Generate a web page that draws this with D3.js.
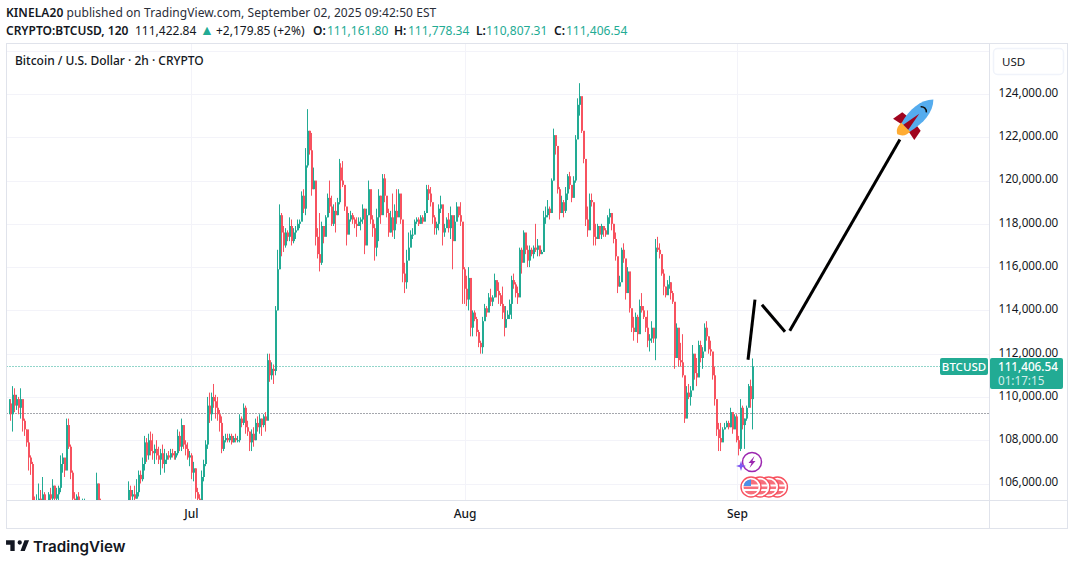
<!DOCTYPE html>
<html>
<head>
<meta charset="utf-8">
<script src="https://cdn.jsdelivr.net/npm/d3@7"></script>
<style>
body { margin: 0; background: #fff; }
svg { display: block; }
text { font-family: "Noto Sans", sans-serif; }
</style>
</head>
<body>
<svg id="chart" width="1074" height="565"></svg>
<script>
// prices in thousands of USD, one bar per ~5.4h
const highs = [
109.9,109.9,110.5,110.4,110.1,110.0,110.4,109.3,109.0,108.5,
108.5,107.3,107.0,105.4,105.5,106.0,105.7,106.3,105.6,105.1,
105.6,105.8,106.2,105.9,105.8,105.9,107.3,107.4,107.1,109.0,
109.0,107.8,106.6,105.6,105.5,105.6,105.2,105.3,105.3,105.2,
105.0,104.9,104.8,105.2,106.5,106.0,105.3,104.9,104.7,104.4,
104.2,104.0,103.8,104.1,104.3,104.5,104.7,104.7,104.9,105.1,
106.1,105.9,105.7,105.9,106.2,106.6,106.6,107.2,108.2,108.1,
108.3,108.4,108.3,107.8,108.0,107.7,107.6,107.8,107.6,107.4,
107.5,107.6,107.6,107.5,107.5,108.5,108.4,109.0,108.7,108.0,
107.9,107.5,107.4,107.0,106.7,105.8,105.5,106.6,107.1,108.0,
110.0,110.2,110.2,110.6,110.1,110.0,109.4,109.1,108.2,108.3,
108.3,108.3,108.3,108.2,108.3,108.2,109.2,109.1,109.7,109.6,
108.9,108.4,108.5,108.6,109.0,109.1,109.2,109.0,109.2,109.3,
112.0,112.0,111.6,111.5,114.2,116.8,118.9,118.5,117.9,117.8,
117.7,118.3,118.2,117.8,117.9,118.2,118.2,119.5,119.6,121.5,
123.3,122.3,122.2,120.6,119.9,117.8,118.5,118.1,117.8,118.4,
119.4,120.0,119.3,118.9,119.0,119.2,121.0,120.8,120.9,119.7,
118.2,118.5,118.6,118.5,118.3,118.3,118.3,118.3,118.9,118.7,
118.7,120.0,118.9,118.4,118.0,118.7,119.6,119.3,120.3,120.3,
118.8,118.7,118.6,119.4,118.9,119.6,119.6,119.1,117.6,116.2,
116.8,117.6,117.7,117.8,118.2,118.3,118.3,118.4,118.4,118.6,
119.8,119.8,119.7,118.8,118.4,118.1,118.9,119.3,118.7,118.0,
118.3,118.5,118.8,118.3,118.4,119.0,118.7,119.0,118.0,116.0,
115.6,116.0,114.5,114.0,114.0,113.7,113.1,112.6,113.7,114.3,
114.2,114.8,115.0,114.7,115.7,115.3,115.3,114.8,115.1,114.2,
114.2,114.0,114.5,115.6,115.7,115.3,115.1,116.9,116.9,117.7,
117.0,117.0,117.0,116.9,117.0,118.0,117.3,116.9,116.8,118.6,
118.8,119.1,118.8,120.1,122.4,121.9,120.8,119.7,119.3,119.1,
119.7,120.3,120.4,119.7,120.2,122.1,123.8,124.5,123.5,122.2,
119.4,118.8,119.4,119.4,118.8,118.0,118.0,117.8,118.0,117.9,
117.8,118.4,118.7,118.5,118.0,117.6,115.9,115.6,116.9,117.1,
115.6,116.0,115.4,114.0,113.7,113.9,113.8,114.5,114.8,114.2,
113.6,114.0,112.9,113.5,113.1,117.3,117.4,117.1,116.5,115.9,
115.1,115.4,115.6,115.0,114.9,113.5,113.4,112.5,112.5,112.9,
110.6,110.5,110.6,110.5,112.4,111.7,111.8,112.6,112.6,112.3,
113.4,113.5,112.8,112.6,111.9,111.4,109.6,108.8,108.8,108.6,
108.8,108.9,108.9,109.5,109.2,109.2,109.2,108.2,109.9,109.6,
109.0,109.6,110.6,110.8,111.78]
const lows = [
109.2,108.9,108.4,109.3,109.4,109.2,109.0,108.4,108.2,107.7,
106.6,106.4,104.9,104.3,104.5,104.8,104.9,104.9,104.6,104.4,
104.6,105.0,105.2,105.1,105.0,105.1,105.6,106.5,106.3,106.8,
107.6,106.2,105.0,104.8,104.7,104.9,104.6,104.7,104.6,104.5,
104.4,104.2,104.2,104.5,104.9,105.0,104.6,104.2,103.9,103.6,
103.5,103.1,103.1,103.3,103.6,103.8,104.1,104.0,104.3,104.4,
104.9,105.1,105.1,105.1,105.3,105.4,106.0,106.1,106.6,107.0,
107.1,107.3,107.1,106.9,107.1,106.9,106.4,106.7,106.5,106.9,
107.1,107.1,107.2,107.1,107.1,107.3,107.5,107.5,107.6,107.3,
107.1,106.8,106.2,106.1,105.3,105.1,104.9,105.0,106.1,106.8,
107.6,108.8,108.9,109.5,109.0,108.9,108.4,107.4,107.5,107.9,
107.9,107.9,107.8,107.9,107.9,107.9,107.9,108.6,108.7,108.3,
108.2,107.5,107.5,107.7,108.0,108.4,108.3,108.2,108.6,108.4,
109.0,110.7,110.8,110.6,111.0,114.0,115.9,116.5,116.7,116.9,
117.2,117.2,117.0,117.1,117.3,117.7,117.8,118.5,118.5,118.4,
120.6,121.2,119.3,119.6,117.0,116.4,115.8,116.1,117.1,117.7,
118.3,118.5,117.9,117.9,117.6,118.4,118.9,119.6,119.7,118.6,
117.0,117.6,118.1,118.0,117.8,117.4,117.9,117.7,118.0,116.6,
117.4,118.4,118.0,117.4,116.3,116.5,117.2,118.0,119.4,119.0,
118.3,117.4,117.6,117.4,117.3,118.0,119.0,118.0,115.3,114.8,
115.0,116.7,117.1,117.3,117.7,118.0,117.9,118.0,118.0,118.2,
118.7,119.1,118.8,118.0,117.5,117.5,117.7,118.5,117.0,117.4,
117.9,117.6,117.3,115.9,117.4,118.5,118.3,117.9,114.3,114.3,
114.2,114.0,112.8,112.8,113.5,112.8,112.3,112.0,112.0,113.6,
113.7,114.0,114.2,114.2,114.6,114.6,114.3,114.2,113.6,112.8,
113.4,113.6,113.6,113.6,115.0,114.6,114.3,115.1,115.7,116.7,
116.6,116.0,116.0,116.5,116.4,116.7,116.5,116.5,116.6,117.1,
118.0,118.3,118.2,118.7,120.0,121.2,119.4,118.2,118.5,118.3,
118.5,119.1,119.6,119.0,119.4,119.9,122.0,123.0,122.2,120.8,
117.9,117.4,118.7,118.8,117.0,117.0,117.4,117.3,117.3,117.4,
117.4,117.9,118.0,117.7,117.1,116.3,114.8,115.1,115.4,116.2,
114.5,115.1,113.9,113.0,112.6,113.1,112.5,113.0,113.9,113.6,
113.0,112.3,112.1,112.5,112.5,111.7,116.7,116.4,115.6,114.7,
114.6,115.0,115.0,114.5,114.3,111.3,112.3,111.4,111.4,110.9,
108.8,109.4,109.9,109.6,110.6,110.8,110.5,111.6,111.6,111.3,
112.5,112.6,112.0,111.9,110.8,109.6,108.2,107.5,107.5,108.2,
108.5,108.6,108.5,108.6,108.3,108.9,107.9,107.3,107.5,108.5,
107.6,108.9,109.6,109.5,108.5]
const closes = [
109.7,109.2,110.1,109.6,109.9,109.5,109.9,108.9,108.5,107.9,
107.2,106.9,105.1,104.6,105.0,105.3,105.1,105.5,104.9,104.7,
105.5,105.3,105.9,105.3,105.5,105.8,106.9,107.2,106.6,108.7,
107.7,106.5,105.3,105.0,105.4,105.1,104.9,105.0,105.1,104.8,
104.6,104.4,104.6,105.0,106.0,105.2,104.8,104.4,104.1,103.9,
103.7,103.4,103.6,103.9,104.1,104.4,104.3,104.5,104.7,104.9,
105.7,105.4,105.5,105.3,105.6,106.4,106.2,106.9,107.9,107.3,
108.0,107.5,107.4,107.6,107.3,107.1,107.4,106.9,107.1,107.3,
107.2,107.4,107.3,107.2,107.4,108.2,107.7,108.7,107.8,107.6,
107.2,107.3,106.5,106.7,105.6,105.3,105.1,106.3,106.9,107.8,
109.6,109.2,110.0,109.8,109.5,109.2,108.8,107.6,108.0,108.1,
108.0,108.2,107.9,108.1,108.0,108.0,109.0,108.8,109.5,108.6,
108.4,107.9,108.3,108.0,108.8,108.6,109.0,108.7,109.1,108.9,
111.7,111.0,111.3,111.2,114.0,115.9,118.4,117.6,117.0,117.6,
117.4,117.9,117.2,117.6,117.7,118.0,118.1,119.3,118.7,120.7,
122.3,121.4,119.6,120.0,117.4,116.6,116.2,117.9,117.4,118.3,
119.2,118.8,118.0,118.6,118.4,119.0,120.6,120.0,119.8,118.8,
117.5,118.2,118.4,118.2,118.0,117.9,118.1,118.2,118.7,117.0,
118.4,119.6,118.2,117.8,116.9,118.3,119.3,118.4,120.1,119.3,
118.5,117.6,118.3,117.7,118.6,118.3,119.4,118.2,115.7,115.3,
116.3,116.9,117.5,117.5,118.1,118.2,118.0,118.3,118.1,118.5,
119.6,119.4,119.0,118.3,117.8,118.0,118.7,118.9,117.6,117.8,
118.2,117.8,118.4,117.2,118.1,118.8,118.4,118.1,115.9,115.0,
114.5,115.5,113.2,113.9,113.6,113.0,112.5,112.3,113.5,114.1,
113.9,114.6,114.4,114.6,115.4,114.9,114.7,114.3,113.9,113.2,
113.6,113.8,114.3,115.4,115.2,114.8,114.6,116.8,116.2,117.6,
116.8,116.3,116.8,116.6,116.9,116.8,117.0,116.6,116.7,118.3,
118.4,118.7,118.5,120.0,122.1,121.6,119.6,118.5,119.0,118.6,
119.4,120.2,119.8,119.2,120.0,121.9,123.5,123.9,122.3,121.0,
118.2,117.7,119.1,119.0,117.4,117.3,117.9,117.5,117.9,117.7,
117.5,118.3,118.5,118.0,117.3,116.5,115.1,115.3,116.8,116.4,
114.8,115.8,114.1,113.2,113.0,113.7,112.9,114.2,114.0,113.7,
113.2,112.6,112.7,113.2,112.7,116.9,116.8,116.6,115.7,115.1,
114.7,115.2,115.3,114.8,114.4,111.8,113.2,111.7,111.6,111.0,
109.0,110.2,110.0,110.3,112.0,111.1,110.9,112.4,111.8,112.1,
113.2,112.8,112.2,112.1,111.0,109.9,108.5,108.1,107.9,108.5,
108.6,108.8,108.6,109.3,108.5,109.1,108.0,107.6,109.5,108.7,
109.0,109.5,110.5,109.9,111.41]

const priceTicks = [106,108,110,112,114,116,118,120,122,124,126]
const monthLabels = ['Jul','Aug','Sep']
const monthBars = [91.8,229.4,366.4]
const lastPrice = 111.40654
const prevClose = 109.227

// the hand drawn forecast: [bar, price] pairs
const strokeA = [[372,111.72],[375.5,114.5]]
const strokeB = [[379,114.26],[390.6,113.01]]
const strokeC = [[393,113.06],[448.4,121.9]]

const green = '#22ab94', red = '#f7525f', gridColor = '#f3f3f9', borderColor = '#e0e3eb', ink = '#131722'
const paneLeft = 6.5, paneRight = 989.5, paneTop = 43.5, paneBottom = 500.5, outerRight = 1067.5, outerBottom = 528.5

const svg = d3.select('#chart')
const x = d3.scaleLinear().domain([0, closes.length - 1]).range([8.5, 752])
const y = d3.scaleLinear().domain([106, 124]).range([483.5, 94])
const money = v => d3.format(',.2f')(v * 1000)

svg.append('defs').append('clipPath').attr('id', 'pane').append('rect')
    .attr('x', paneLeft).attr('y', paneTop).attr('width', paneRight - paneLeft).attr('height', paneBottom - paneTop)

// header
const head1 = svg.append('text').attr('x', 6).attr('y', 17).attr('font-size', 12).attr('letter-spacing', 0.07).attr('fill', ink)
head1.append('tspan').attr('font-weight', 600).text('KINELA20')
head1.append('tspan').attr('fill', '#2a2e39').text(' published on TradingView.com, September 02, 2025 09:42:50 EST')
const head2 = svg.append('text').attr('y', 35).attr('font-size', 12).attr('fill', ink)
head2.append('tspan').attr('x', 6).attr('font-weight', 600).text('CRYPTO:BTCUSD, 120')
head2.append('tspan').attr('x', 135).text('111,422.84')
head2.append('tspan').attr('x', 200).attr('fill', green).attr('font-size', 14).text('▲')
head2.append('tspan').attr('x', 216).text('+2,179.85 (+2%)')
const ohlcNames = ['O:','H:','L:','C:']
const ohlcValues = ['111,161.80','111,778.34','110,807.31','111,406.54']
const ohlcNameX = [313,394,476,554]
const ohlcValueX = [327,408,486,566]
ohlcNames.forEach((n, i) => {
    head2.append('tspan').attr('x', ohlcNameX[i]).attr('font-weight', 600).text(n)
    head2.append('tspan').attr('x', ohlcValueX[i]).attr('fill', green).text(ohlcValues[i])
})

// grid
svg.append('g').selectAll('line').data(priceTicks).join('line')
    .attr('x1', paneLeft).attr('x2', paneRight)
    .attr('y1', d => Math.round(y(d)) + 0.5).attr('y2', d => Math.round(y(d)) + 0.5)
    .attr('stroke', gridColor)
svg.append('g').selectAll('line').data(monthBars).join('line')
    .attr('x1', d => Math.round(x(d)) + 0.5).attr('x2', d => Math.round(x(d)) + 0.5)
    .attr('y1', paneTop).attr('y2', paneBottom)
    .attr('stroke', gridColor)

// price lines
const lastY = Math.floor(y(lastPrice)) + 0.5
const prevY = Math.floor(y(prevClose)) + 0.5
svg.append('line').attr('x1', paneLeft).attr('x2', 940).attr('y1', lastY).attr('y2', lastY)
    .attr('stroke', green).attr('stroke-dasharray', '1 2')
svg.append('line').attr('x1', paneLeft).attr('x2', paneRight).attr('y1', prevY).attr('y2', prevY)
    .attr('stroke', '#4a4e5a').attr('stroke-dasharray', '1 2')

// candles
const pane = svg.append('g').attr('clip-path', 'url(#pane)')
const candles = pane.selectAll('g').data(closes).join('g')
    .attr('fill', (c, i) => c >= (i ? closes[i - 1] : c - 0.3) ? green : red)
candles.append('rect')
    .attr('x', (c, i) => Math.round(x(i))).attr('width', 1)
    .attr('y', (c, i) => y(highs[i]))
    .attr('height', (c, i) => Math.max(0.5, y(lows[i]) - y(highs[i])))
candles.append('rect')
    .attr('x', (c, i) => Math.round(x(i))).attr('width', 2)
    .attr('y', (c, i) => y(Math.max(c, i ? closes[i - 1] : c)))
    .attr('height', (c, i) => Math.max(1, Math.abs(y(c) - y(i ? closes[i - 1] : c))))

// forecast strokes
const pen = d3.line().x(d => x(d[0])).y(d => y(d[1]))
;[strokeA, strokeB, strokeC].forEach(s => {
    svg.append('path').attr('d', pen(s)).attr('fill', 'none').attr('stroke', '#000').attr('stroke-width', 3)
})

// rocket
const rocket = svg.append('g').attr('transform', 'translate(915,118) rotate(45)')
rocket.append('path').attr('d', 'M-5,4 L-13,5 L-15,16 L-5,14 Z').attr('fill', '#a0041e')
rocket.append('path').attr('d', 'M5,4 L13,5 L15,16 L5,14 Z').attr('fill', '#a0041e')
rocket.append('path').attr('d', 'M-6,12 L6,12 C7,18 4,22 -1,24 C-5,22 -7,18 -6,12 Z').attr('fill', '#ffac33')
rocket.append('path').attr('d', 'M0,-26 C9,-17 10,-2 6,13 L-6,13 C-10,-2 -9,-17 0,-26 Z').attr('fill', '#55acee')
rocket.append('path').attr('d', 'M0,-6 L3.5,13 L-3.5,13 Z').attr('fill', '#a0041e')
rocket.append('path').attr('d', 'M-4,-12 A5,5 0 0 1 4,-12').attr('fill', 'none').attr('stroke', '#111').attr('stroke-width', 1.5)

// event badges
const flagBars = [373.5, 378, 382.4, 386.8]
const flagY = 487
const flags = svg.append('g')
flagBars.slice().reverse().forEach((b, k) => {
    const g = flags.append('g').attr('transform', `translate(${x(b)},${flagY})`)
    g.append('circle').attr('r', 10).attr('fill', '#fff').attr('stroke', '#f7525f').attr('stroke-width', 1.4)
    g.append('circle').attr('r', 7.5).attr('fill', '#f7707c')
    g.append('rect').attr('x', -7.5).attr('y', -2.5).attr('width', 15).attr('height', 2).attr('fill', '#fff')
    g.append('rect').attr('x', -7.5).attr('y', 2).attr('width', 15).attr('height', 2).attr('fill', '#fff')
    if (k === flagBars.length - 1) {
        g.append('path').attr('d', 'M-7.5,-1 A7.5,7.5 0 0 1 0,-7.5 L0,-1 Z').attr('fill', '#4a90e8')
    }
})
const bolt = svg.append('g').attr('transform', 'translate(752,462)')
bolt.append('circle').attr('r', 9.5).attr('fill', '#fff').attr('stroke', '#9c27b0').attr('stroke-width', 1.5)
bolt.append('path').attr('d', 'M2.5,-6 L-3.5,1 L-0.5,1 L-2.5,6 L3.5,-1 L0.5,-1 Z').attr('fill', '#9c27b0')
svg.append('path').attr('transform', 'translate(741,466)')
    .attr('d', 'M0,-5 L1.2,-1.2 L5,0 L1.2,1.2 L0,5 L-1.2,1.2 L-5,0 L-1.2,-1.2 Z').attr('fill', '#7e57f2')

// frame
const frame = svg.append('g').attr('fill', 'none').attr('stroke', borderColor)
frame.append('rect').attr('x', paneLeft).attr('y', paneTop).attr('width', outerRight - paneLeft).attr('height', outerBottom - paneTop)
frame.append('line').attr('x1', paneRight).attr('x2', paneRight).attr('y1', paneTop).attr('y2', outerBottom)
frame.append('line').attr('x1', paneLeft).attr('x2', outerRight).attr('y1', paneBottom).attr('y2', paneBottom)

// legend
svg.append('text').attr('x', 15).attr('y', 65).attr('font-size', 12).attr('font-weight', 500).attr('fill', ink)
    .text('Bitcoin / U.S. Dollar · 2h · CRYPTO')

// axes
const priceAxis = d3.axisRight(y).tickValues(priceTicks.slice(0, -1)).tickFormat(money).tickSize(0).tickPadding(9)
const gy = svg.append('g').attr('transform', `translate(${paneRight},0)`).call(priceAxis)
gy.select('.domain').remove()
gy.selectAll('text').attr('font-size', 11.7).attr('dy', '0.2em').attr('fill', ink).style('font-family', '"Noto Sans", sans-serif')

const monthAxis = d3.axisBottom(x).tickValues(monthBars).tickFormat((d, i) => monthLabels[i]).tickSize(0).tickPadding(9)
const gx = svg.append('g').attr('transform', `translate(0,${paneBottom})`).call(monthAxis)
gx.select('.domain').remove()
gx.selectAll('text').attr('font-size', 12).attr('font-weight', 500).attr('fill', ink).style('font-family', '"Noto Sans", sans-serif')

// USD button
svg.append('rect').attr('x', 993.5).attr('y', 48.5).attr('width', 70).attr('height', 26).attr('rx', 4)
    .attr('fill', '#fff').attr('stroke', '#f0f3fa').attr('stroke-width', 1.5)
svg.append('text').attr('x', 1002).attr('y', 66).attr('font-size', 11.5).attr('fill', ink).text('USD')

// last price tags
svg.append('rect').attr('x', 940).attr('y', lastY - 8.5).attr('width', 48).attr('height', 17).attr('rx', 2).attr('fill', green)
svg.append('text').attr('x', 964).attr('y', lastY + 4.5).attr('text-anchor', 'middle').attr('font-size', 11.5)
    .attr('font-weight', 500).attr('fill', '#fff').text('BTCUSD')
svg.append('rect').attr('x', 990).attr('y', lastY - 8.5).attr('width', 73).attr('height', 31).attr('rx', 2).attr('fill', green)
svg.append('text').attr('x', 998).attr('y', lastY + 4).attr('font-size', 11.7).attr('font-weight', 500).attr('fill', '#fff').text(money(lastPrice))
svg.append('text').attr('x', 998).attr('y', lastY + 18).attr('font-size', 11.7).attr('fill', '#d3eeea').text('01:17:15')

// watermark
svg.append('path').attr('transform', 'translate(4.6,536) scale(0.72)')
    .attr('d', 'M14 6H2v6h6v9h6V6Zm14 15h-6l5.6-15H34l-6 15Zm-7-9a3 3 0 1 0 0-6 3 3 0 0 0 0 6Z')
    .attr('fill', '#131722')
svg.append('text').attr('x', 33).attr('y', 552).attr('font-size', 15.2).attr('font-weight', 600)
    .style('font-family', 'Inter, sans-serif').attr('fill', '#131722').text('TradingView')
</script>
</body>
</html>
